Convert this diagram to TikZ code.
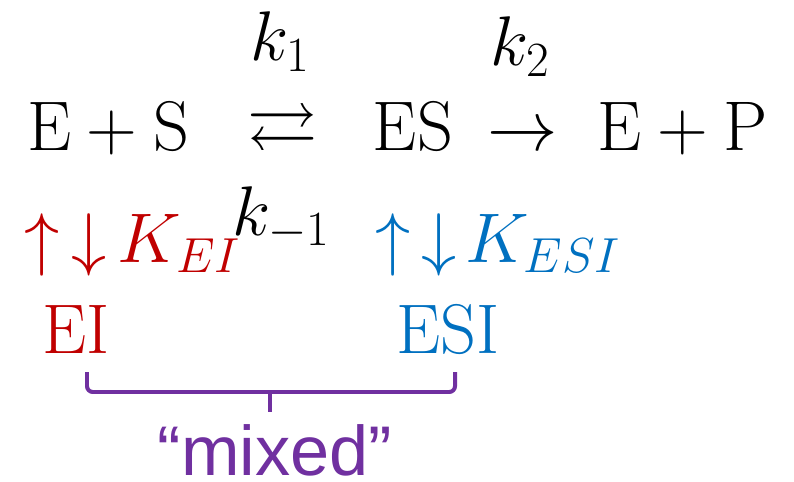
\RequirePackage{fix-cm}
\documentclass[tikz,border=0pt]{standalone}
\usepackage{amsmath,amssymb}
\usepackage{fontspec}
\newfontfamily\mixfont{Liberation Sans}
\definecolor{eired}{HTML}{C00000}
\definecolor{esiblue}{HTML}{0070C0}
\definecolor{mixpurple}{HTML}{7030A0}
\tikzset{
  big/.style={font=\fontsize{60}{62}\selectfont,inner sep=0pt,anchor=base},
  brace/.style={draw=mixpurple,line width=3.4pt,rounded corners=5pt}
}

\begin{document}
\begin{tikzpicture}[x=0.03cm,y=-0.03cm]
\useasboundingbox (0,0) rectangle (794,481);
% rate constants
\node[big] (k1) at (280,61) {$k_1$};
\node[big] (k2) at (520,66) {$k_2$};
\node[big] (km1) at (281,235) {$k_{-1}$};
% main reaction
\node[big] (es0) at (108,150) {$\mathrm{E}+\mathrm{S}$};
\node[big] (eq) at (283,150) {$\rightleftarrows$};
\node[big] (es) at (413,150) {$\mathrm{ES}$};
\node[big] (fw) at (523,150) {$\rightarrow$};
\node[big] (ep) at (683,150) {$\mathrm{E}+\mathrm{P}$};
% inhibitor binding
\node[big,text=eired] (arEI) at (66,262) {$\uparrow\,\downarrow$};
\node[big,text=eired] (KEI) at (179,262) {$K_{EI}$};
\node[big,text=esiblue] (arESI) at (416,262) {$\uparrow\,\downarrow$};
\node[big,text=esiblue] (KESI) at (543,262) {$K_{ESI}$};
\node[big,text=eired] (EI) at (76,353) {EI};
\node[big,text=esiblue] (ESI) at (448,353) {ESI};
% bracket
\coordinate (brL) at (87,372);
\coordinate (brR) at (455,372);
\coordinate (brM) at (270,392);
\coordinate (brT) at (270,412);
\draw[brace] (brL) -- (brL |- brM) -- (brR |- brM) -- (brR);
\draw[brace] (brM) -- (brT);
\node[big,text=mixpurple,font=\fontsize{60}{62}\selectfont\mixfont] (mix) at (275,475) {“mixed”};
\end{tikzpicture}
\end{document}
